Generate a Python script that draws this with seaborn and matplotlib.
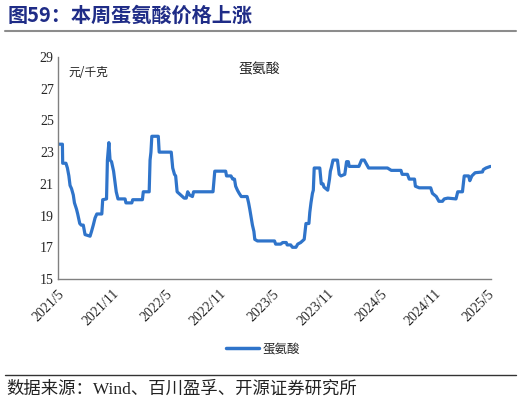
import pandas as pd
import matplotlib
matplotlib.use('Agg')
import matplotlib.pyplot as plt
from matplotlib.lines import Line2D
import seaborn as sns

# 蛋氨酸价格 (元/千克)
dates = ['2021-05-01', '2021-05-16', '2021-05-17', '2021-05-28', '2021-06-02', '2021-06-07',
         '2021-06-11', '2021-06-16', '2021-06-22', '2021-06-26', '2021-07-03', '2021-07-07',
         '2021-07-14', '2021-07-19', '2021-07-26', '2021-08-01', '2021-08-18', '2021-08-23',
         '2021-08-29', '2021-09-04', '2021-09-10', '2021-09-27', '2021-09-30', '2021-10-13',
         '2021-10-16', '2021-10-21', '2021-10-25', '2021-10-30', '2021-11-06', '2021-11-10',
         '2021-11-15', '2021-11-21', '2021-12-15', '2021-12-18', '2022-01-07', '2022-01-10',
         '2022-02-12', '2022-02-15', '2022-03-07', '2022-03-10', '2022-03-13', '2022-03-16',
         '2022-04-07', '2022-04-10', '2022-05-21', '2022-05-26', '2022-06-01', '2022-06-05',
         '2022-06-10', '2022-06-16', '2022-06-25', '2022-07-04', '2022-07-11', '2022-07-16',
         '2022-07-22', '2022-08-01', '2022-08-05', '2022-10-10', '2022-10-16', '2022-11-22',
         '2022-11-25', '2022-12-10', '2022-12-16', '2022-12-22', '2022-12-26', '2023-01-01',
         '2023-01-07', '2023-01-14', '2023-02-03', '2023-02-08', '2023-02-12', '2023-02-17',
         '2023-02-21', '2023-02-26', '2023-03-01', '2023-03-10', '2023-05-07', '2023-05-11',
         '2023-05-28', '2023-06-04', '2023-06-16', '2023-06-19', '2023-07-01', '2023-07-07',
         '2023-07-19', '2023-07-25', '2023-08-04', '2023-08-16', '2023-08-22', '2023-09-01',
         '2023-09-04', '2023-09-08', '2023-09-13', '2023-09-16', '2023-09-19', '2023-10-08',
         '2023-10-13', '2023-10-19', '2023-10-22', '2023-11-04', '2023-11-10', '2023-11-13',
         '2023-11-16', '2023-11-22', '2023-12-07', '2023-12-13', '2023-12-19', '2024-01-01',
         '2024-01-07', '2024-01-13', '2024-01-16', '2024-02-18', '2024-02-27', '2024-03-07',
         '2024-03-19', '2024-03-22', '2024-05-25', '2024-06-07', '2024-07-10', '2024-07-14',
         '2024-08-01', '2024-08-07', '2024-08-25', '2024-08-28', '2024-09-10', '2024-10-19',
         '2024-10-25', '2024-11-07', '2024-11-16', '2024-11-28', '2024-12-04', '2024-12-16',
         '2025-01-13', '2025-01-19', '2025-02-04', '2025-02-10', '2025-02-25', '2025-03-01',
         '2025-03-08', '2025-03-19', '2025-04-13', '2025-04-16', '2025-04-25', '2025-05-10']
prices = [23.5, 23.5, 22.3, 22.3, 22.0, 21.5,
          20.9, 20.7, 20.3, 19.8, 19.4, 19.1,
          18.5, 18.4, 18.4, 17.8, 17.7, 18.0,
          18.4, 18.85, 19.1, 19.1, 20.0, 20.05,
          22.5, 23.6, 22.5, 22.4, 21.8, 21.2,
          20.5, 20.05, 20.05, 19.8, 19.8, 20.0,
          20.0, 20.5, 20.5, 22.5, 23.0, 24.0,
          24.0, 23.0, 23.0, 22.0, 21.6, 21.5,
          20.5, 20.4, 20.25, 20.1, 20.1, 20.5,
          20.3, 20.2, 20.5, 20.5, 21.8, 21.8,
          21.5, 21.5, 21.3, 21.3, 20.85, 20.6,
          20.4, 20.2, 20.2, 19.8, 19.4, 18.85,
          18.4, 18.0, 17.5, 17.4, 17.4, 17.2,
          17.2, 17.3, 17.3, 17.15, 17.15, 17.0,
          17.0, 17.2, 17.3, 17.5, 18.5, 18.5,
          19.2, 19.8, 20.4, 20.6, 22.0, 22.0,
          21.0, 21.0, 20.8, 20.6, 21.3, 21.8,
          22.0, 22.5, 22.5, 21.6, 21.5, 21.6,
          22.4, 22.4, 22.1, 22.1, 22.5, 22.5,
          22.1, 22.0, 22.0, 21.85, 21.85, 21.6,
          21.6, 21.3, 21.3, 20.85, 20.75, 20.75,
          20.4, 20.2, 19.9, 19.9, 20.05, 20.1,
          20.05, 20.5, 20.5, 21.5, 21.5, 21.2,
          21.5, 21.7, 21.75, 21.9, 22.0, 22.1]
tick_dates = ['2021-05-01', '2021-11-01', '2022-05-01', '2022-11-01', '2023-05-01',
              '2023-11-01', '2024-05-01', '2024-11-01', '2025-05-01']
tick_labels = ['2021/5', '2021/11', '2022/5', '2022/11', '2023/5',
               '2023/11', '2024/5', '2024/11', '2025/5']
y_ticks = [15, 17, 19, 21, 23, 25, 27, 29]

df = pd.DataFrame({'date': pd.to_datetime(dates), 'price': prices})

sns.set_style('white')
plt.rcParams['font.family'] = ['Liberation Serif', 'Noto Sans CJK SC', 'DejaVu Sans']

line_color = '#2F74CA'
fig = plt.figure(figsize=(5.21, 4.05), dpi=100)
ax = fig.add_axes([0.1113, 0.3111, 0.8311, 0.5482])

sns.lineplot(data=df, x='date', y='price', ax=ax, color=line_color, linewidth=2.3)

ax.set_ylim(15, 29)
ax.set_yticks(y_ticks)
ax.set_xlim(pd.Timestamp('2021-05-01'), pd.Timestamp('2025-05-12'))
ax.set_xticks(pd.to_datetime(tick_dates))
ax.set_xticklabels(tick_labels, rotation=45, ha='right', rotation_mode='anchor')
ax.set_xlabel('')
ax.set_ylabel('')
ax.tick_params(axis='both', direction='in', length=4, width=0.8, color='#808080',
               labelsize=10, pad=3)
ax.tick_params(axis='x', pad=6)
for s in ['top', 'right']:
    ax.spines[s].set_visible(False)
for s in ['left', 'bottom']:
    ax.spines[s].set_color('#808080')
    ax.spines[s].set_linewidth(1.0)

cjk = ['Noto Sans CJK SC', 'DejaVu Sans']
ax.text(0.023, 0.93, '元/千克', transform=ax.transAxes, fontsize=8.5, family=cjk,
        va='center', ha='left', color='#222222')
ax.text(0.465, 0.945, '蛋氨酸', transform=ax.transAxes, fontsize=10, family=cjk,
        va='center', ha='center', color='#222222')

# legend below the axes
handle = Line2D([], [], color=line_color, linewidth=2.5)
fig.legend([handle], ['蛋氨酸'], loc='center', bbox_to_anchor=(0.505, 1 - 349 / 405),
           frameon=False, handlelength=2.6, handletextpad=0.3,
           prop={'family': cjk, 'size': 9})

# title and source with separator lines
fig.text(0.015, 1 - 15 / 405, '图59：本周蛋氨酸价格上涨', fontsize=14.5, fontweight='bold',
         color='#1F2C87', family=cjk, va='center', ha='left')
fig.add_artist(Line2D([0.01, 0.99], [1 - 31 / 405] * 2, color='#8C8C8C', linewidth=1.5))
fig.add_artist(Line2D([0.01, 0.99], [1 - 375 / 405] * 2, color='#333333', linewidth=1.0))
fig.text(0.013, 1 - 390 / 405, '数据来源：Wind、百川盈孚、开源证券研究所', fontsize=12.5,
         color='#222222', family=['Liberation Serif', 'Noto Sans CJK SC'], va='center', ha='left')

fig.savefig('out.png', dpi=100)
